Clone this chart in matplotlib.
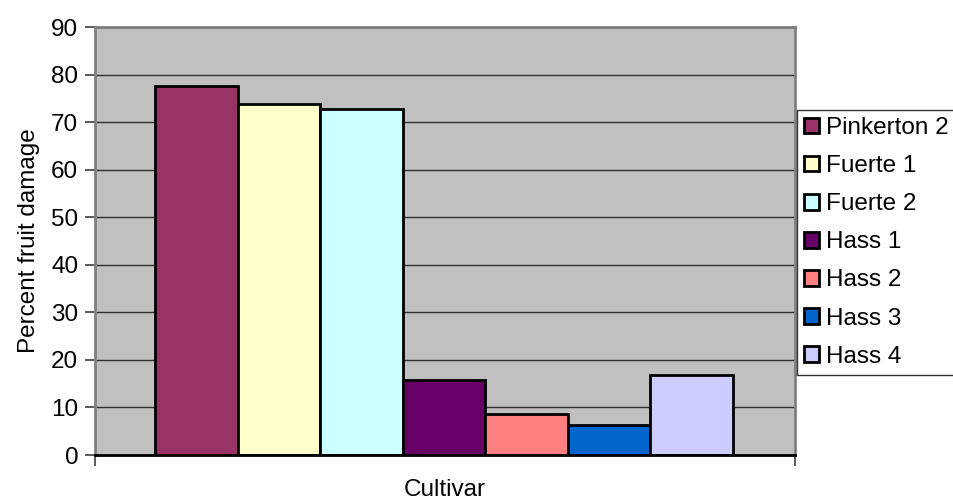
import matplotlib
matplotlib.use("Agg")
import matplotlib.pyplot as plt
from matplotlib.patches import Patch

plt.rcParams['font.family'] = ['Liberation Sans', 'DejaVu Sans']

series = ["Pinkerton 2", "Fuerte 1", "Fuerte 2", "Hass 1", "Hass 2", "Hass 3", "Hass 4"]
values = [77.5, 73.8, 72.8, 15.8, 8.7, 6.3, 16.8]
colors = ["#993366", "#FFFFCC", "#CCFFFF", "#660066", "#FF8080", "#0066CC", "#CCCCFF"]
yticks = [0, 10, 20, 30, 40, 50, 60, 70, 80, 90]

FS = 17.5

fig = plt.figure(figsize=(9.54, 4.99), dpi=100)
ax = fig.add_axes([95/954, 1-455/499, 700/954, 428/499])
ax.set_facecolor("#C0C0C0")

x = list(range(len(series)))
bars = ax.bar(x, values, width=1.0, color=colors, edgecolor="black", linewidth=2.0, zorder=3)

ax.set_xlim(-0.5-0.726, len(series)-0.5+0.75)
ax.set_ylim(0, 90)
ax.set_yticks(yticks)
ax.set_yticklabels([str(v) for v in yticks], fontsize=FS)
ax.yaxis.grid(True, color="#303030", linewidth=1.0, zorder=1)
ax.set_axisbelow(True)

ax.set_xticks([ax.get_xlim()[0], ax.get_xlim()[1]])
ax.set_xticklabels(["", ""])
ax.tick_params(axis='x', direction='out', length=8, width=1.2, color="#404040")
ax.tick_params(axis='y', direction='out', length=7, width=1.2, color="#404040", pad=5)

for side in ["left", "top", "right"]:
    ax.spines[side].set_color("#808080")
    ax.spines[side].set_linewidth(2.0)
ax.spines["bottom"].set_color("black")
ax.spines["bottom"].set_linewidth(2.0)
ax.spines["bottom"].set_zorder(5)

ax.set_ylabel("Percent fruit damage", fontsize=FS, labelpad=8)
ax.xaxis.set_label_coords(0.503, (455-495.5)/428)
ax.set_xlabel("Cultivar", fontsize=FS, va="baseline")

handles = [Patch(facecolor=c, edgecolor="black", linewidth=2.0) for c in colors]
leg = fig.legend(handles, series, loc="upper left", bbox_to_anchor=(797/954, 1-110/499),
                 fontsize=FS, frameon=True, fancybox=False, edgecolor="black",
                 handlelength=0.6, handleheight=0.6, handletextpad=0.3,
                 labelspacing=0.66, borderpad=0.3, borderaxespad=0.0)
leg.get_frame().set_linewidth(1.0)

fig.savefig("out.png", dpi=100)
